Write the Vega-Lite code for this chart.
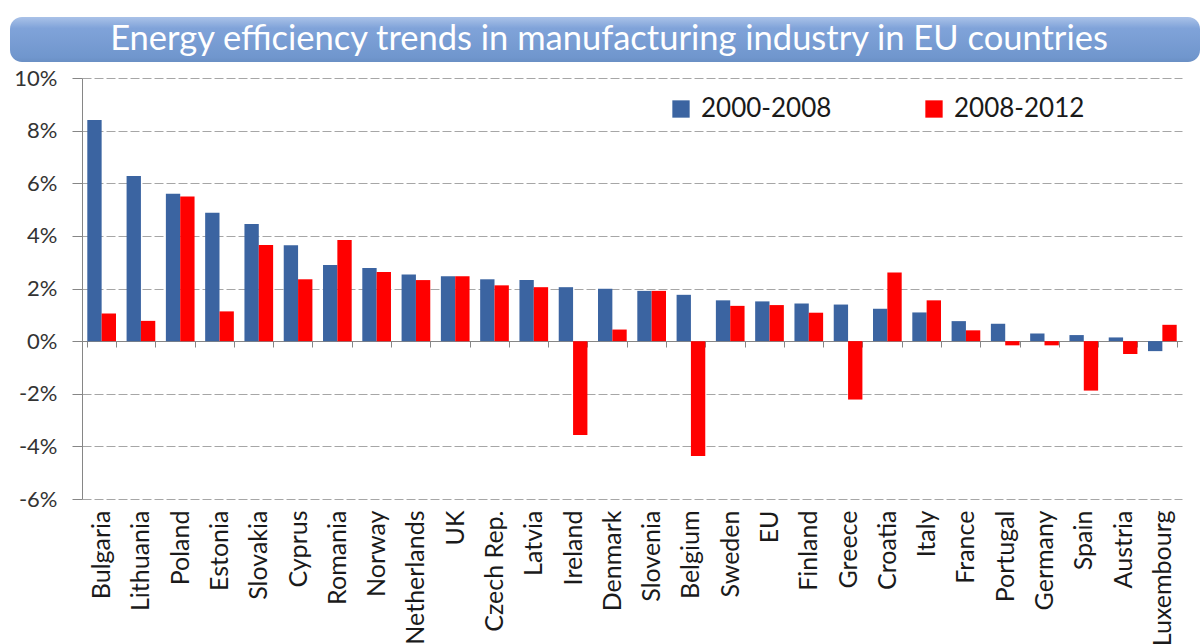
{
  "$schema": "https://vega.github.io/schema/vega-lite/v6.json",
  "background": "white",
  "padding": {"left": -2, "top": 17, "right": 0, "bottom": 0},
  "columns": 1,
  "spacing": 5,
  "resolve": {"legend": {"color": "independent"}},
  "datasets": {
    "banner": [{"t": "Energy efficiency trends in manufacturing industry in EU countries"}],
    "eff": [
      {"country": "Bulgaria", "period": "2000-2008", "value": 8.4},
      {"country": "Bulgaria", "period": "2008-2012", "value": 1.05},
      {"country": "Lithuania", "period": "2000-2008", "value": 6.28},
      {"country": "Lithuania", "period": "2008-2012", "value": 0.77},
      {"country": "Poland", "period": "2000-2008", "value": 5.6},
      {"country": "Poland", "period": "2008-2012", "value": 5.5},
      {"country": "Estonia", "period": "2000-2008", "value": 4.88},
      {"country": "Estonia", "period": "2008-2012", "value": 1.13},
      {"country": "Slovakia", "period": "2000-2008", "value": 4.45},
      {"country": "Slovakia", "period": "2008-2012", "value": 3.65},
      {"country": "Cyprus", "period": "2000-2008", "value": 3.64},
      {"country": "Cyprus", "period": "2008-2012", "value": 2.35},
      {"country": "Romania", "period": "2000-2008", "value": 2.89},
      {"country": "Romania", "period": "2008-2012", "value": 3.84},
      {"country": "Norway", "period": "2000-2008", "value": 2.78},
      {"country": "Norway", "period": "2008-2012", "value": 2.63},
      {"country": "Netherlands", "period": "2000-2008", "value": 2.53},
      {"country": "Netherlands", "period": "2008-2012", "value": 2.32},
      {"country": "UK", "period": "2000-2008", "value": 2.47},
      {"country": "UK", "period": "2008-2012", "value": 2.47},
      {"country": "Czech Rep.", "period": "2000-2008", "value": 2.35},
      {"country": "Czech Rep.", "period": "2008-2012", "value": 2.12},
      {"country": "Latvia", "period": "2000-2008", "value": 2.32},
      {"country": "Latvia", "period": "2008-2012", "value": 2.05},
      {"country": "Ireland", "period": "2000-2008", "value": 2.05},
      {"country": "Ireland", "period": "2008-2012", "value": -3.57},
      {"country": "Denmark", "period": "2000-2008", "value": 1.99},
      {"country": "Denmark", "period": "2008-2012", "value": 0.44},
      {"country": "Slovenia", "period": "2000-2008", "value": 1.91},
      {"country": "Slovenia", "period": "2008-2012", "value": 1.91},
      {"country": "Belgium", "period": "2000-2008", "value": 1.76},
      {"country": "Belgium", "period": "2008-2012", "value": -4.37},
      {"country": "Sweden", "period": "2000-2008", "value": 1.55},
      {"country": "Sweden", "period": "2008-2012", "value": 1.34},
      {"country": "EU", "period": "2000-2008", "value": 1.51},
      {"country": "EU", "period": "2008-2012", "value": 1.37},
      {"country": "Finland", "period": "2000-2008", "value": 1.43},
      {"country": "Finland", "period": "2008-2012", "value": 1.08},
      {"country": "Greece", "period": "2000-2008", "value": 1.39},
      {"country": "Greece", "period": "2008-2012", "value": -2.22},
      {"country": "Croatia", "period": "2000-2008", "value": 1.23},
      {"country": "Croatia", "period": "2008-2012", "value": 2.61},
      {"country": "Italy", "period": "2000-2008", "value": 1.09},
      {"country": "Italy", "period": "2008-2012", "value": 1.55},
      {"country": "France", "period": "2000-2008", "value": 0.76},
      {"country": "France", "period": "2008-2012", "value": 0.41},
      {"country": "Portugal", "period": "2000-2008", "value": 0.66},
      {"country": "Portugal", "period": "2008-2012", "value": -0.16},
      {"country": "Germany", "period": "2000-2008", "value": 0.29},
      {"country": "Germany", "period": "2008-2012", "value": -0.16},
      {"country": "Spain", "period": "2000-2008", "value": 0.23},
      {"country": "Spain", "period": "2008-2012", "value": -1.88},
      {"country": "Austria", "period": "2000-2008", "value": 0.14},
      {"country": "Austria", "period": "2008-2012", "value": -0.49},
      {"country": "Luxembourg", "period": "2000-2008", "value": -0.38},
      {"country": "Luxembourg", "period": "2008-2012", "value": 0.62}
    ]
  },
  "concat": [
    {
      "width": 1190,
      "height": 45,
      "data": {"name": "banner"},
      "view": {
        "stroke": null,
        "cornerRadius": 12,
        "fill": {
          "gradient": "linear", "x1": 0, "y1": 0, "x2": 0, "y2": 1,
          "stops": [
            {"offset": 0, "color": "#aac2e8"},
            {"offset": 0.25, "color": "#80a3d9"},
            {"offset": 0.9, "color": "#7096cd"},
            {"offset": 1, "color": "#6a8fc4"}
          ]
        }
      },
      "mark": {"type": "text", "font": "Lato", "fontSize": 34.5, "color": "#ffffff", "baseline": "middle", "align": "center", "dx": 4},
      "encoding": {"text": {"field": "t", "type": "nominal"}}
    },
    {
      "width": 1172,
      "height": 421,
      "data": {"name": "eff"},
      "view": {"stroke": null},
      "mark": {"type": "bar"},
      "encoding": {
        "x": {
          "field": "country", "type": "nominal", "sort": null,
          "scale": {"range": [72, 1172], "paddingInner": 0.27, "paddingOuter": 0.135},
          "axis": {
            "title": null, "orient": "bottom", "offset": -158,
            "domainColor": "#868686", "tickColor": "#868686", "tickBand": "extent", "tickSize": 6,
            "labelAngle": -90, "labelAlign": "right", "labelBaseline": "middle",
            "labelPadding": 163, "labelFontSize": 25, "labelFont": "Lato", "labelColor": "#1a1a1a"
          }
        },
        "xOffset": {"field": "period", "type": "nominal", "scale": {"paddingInner": 0, "paddingOuter": 0}},
        "y": {
          "field": "value", "type": "quantitative",
          "scale": {"domain": [-6, 10], "nice": false},
          "axis": {
            "title": null, "values": [-6, -4, -2, 0, 2, 4, 6, 8, 10], "offset": -72,
            "labelExpr": "datum.value + '%'",
            "domainColor": "#868686", "tickColor": "#868686", "tickSize": 10,
            "gridColor": "#a6a6a6", "gridDash": [9, 3],
            "labelFontSize": 22, "labelFont": "Lato", "labelColor": "#333333", "labelPadding": 15
          }
        },
        "color": {
          "field": "period", "type": "nominal",
          "scale": {"domain": ["2000-2008", "2008-2012"], "range": ["#3b64a1", "#ff0000"]},
          "legend": {
            "title": null, "orient": "none", "legendX": 658, "legendY": 18, "direction": "horizontal",
            "symbolType": "square", "symbolSize": 300, "symbolStrokeWidth": 0,
            "labelFontSize": 26, "labelFont": "Lato", "labelColor": "#1a1a1a",
            "columnPadding": 89, "labelOffset": 7
          }
        }
      }
    }
  ]
}
